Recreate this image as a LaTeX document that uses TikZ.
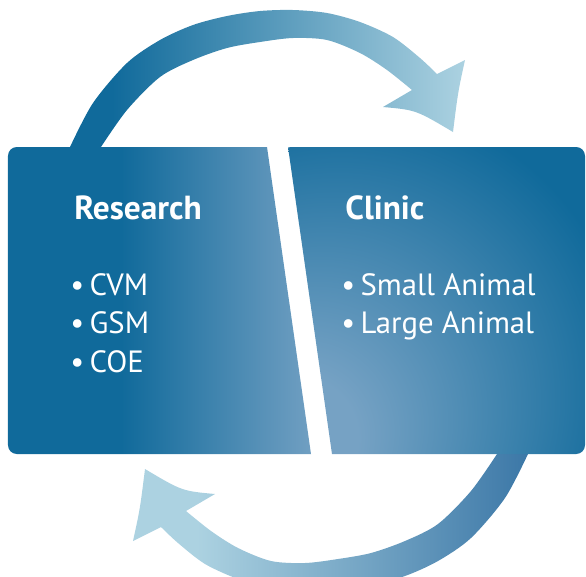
\documentclass[tikz,border=0pt]{standalone}
\usepackage{fontspec}
\setmainfont{PT Sans}
\usetikzlibrary{calc}

\definecolor{rsdark}{RGB}{16,106,155}
\definecolor{rslight}{RGB}{172,210,225}
\definecolor{rspale}{RGB}{118,162,196}
\definecolor{rsmid}{RGB}{58,118,166}

\pgfdeclarehorizontalshading{toparrowshade}{100bp}{color(0bp)=(rsdark); color(31bp)=(rsdark); color(75bp)=(rslight); color(100bp)=(rslight)}
\pgfdeclarehorizontalshading{bottomarrowshade}{100bp}{color(0bp)=(rslight); color(33bp)=(rslight); color(75bp)=(rsmid); color(100bp)=(rsmid)}
\pgfdeclarehorizontalshading{researchshade}{100bp}{color(0bp)=(rsdark); color(43bp)=(rsdark); color(75bp)=(rspale); color(100bp)=(rspale)}
\pgfdeclareradialshading{clinicshade}{\pgfpoint{-25bp}{-25bp}}{color(0bp)=(rspale); color(10bp)=(rspale); color(46bp)=(rsdark); color(100bp)=(rsdark)}

\newcommand{\itemdot}{\kern-2.3pt•\kern3.1pt}

\tikzset{
    cycle arrow/.style={insert path={
        (64,165) -- plot[smooth] coordinates {(70,147) (93,103) (127,63) (160,40) (193,25) (227,16) (260,11) (293,10) (327,13) (360,22) (393,37) (420,58) (437,74)}
        -- (465,60) .. controls (458,92) .. (453,132) .. controls (416,110) .. (383,107) -- (412,90)
        -- plot[smooth] coordinates {(412,90) (387,70) (360,53) (327,40) (293,38) (260,42) (227,48) (193,60) (160,77) (127,110) (101,147)}
        -- (94,165) -- cycle}},
    panel title/.style={text=white, inner sep=0pt, anchor=base west, font=\fontsize{19}{21}\selectfont\bfseries},
    panel item/.style={text=white, inner sep=0pt, anchor=base west, font=\fontsize{17.5}{20}\selectfont}
}

\begin{document}
\begin{tikzpicture}[x=0.02cm, y=-0.02cm]
    \useasboundingbox (0,0) rectangle (586,576);
    \clip (0,0) rectangle (586,576);

    % arrows
    \shade[shading=toparrowshade, cycle arrow];
    \shade[shading=bottomarrowshade, rotate around={180:(299,300.5)}, cycle arrow];

    % panels
    \begin{scope}
        \clip (0,140) -- (267,147) -- (311,454) -- (0,460) -- cycle;
        \shade[shading=researchshade, rounded corners=5pt] (8,147) rectangle (322,454);
    \end{scope}
    \begin{scope}
        \clip (288,147) -- (600,140) -- (600,460) -- (332,454) -- cycle;
        \shade[shading=clinicshade, rounded corners=5pt] (282,147) rectangle (585,454);
    \end{scope}

    % texts
    \node[panel title] (research) at (74,219) {Research};
    \node[panel item] (cvm) at (74,295) {\itemdot CVM};
    \node[panel item] (gsm) at (74,333) {\itemdot GSM};
    \node[panel item] (coe) at (74,372) {\itemdot COE};

    \node[panel title] (clinic) at (345,219) {Clinic};
    \node[panel item] (smallanimal) at (345,295) {\itemdot Small Animal};
    \node[panel item] (largeanimal) at (345,333) {\itemdot Large Animal};
\end{tikzpicture}
\end{document}
